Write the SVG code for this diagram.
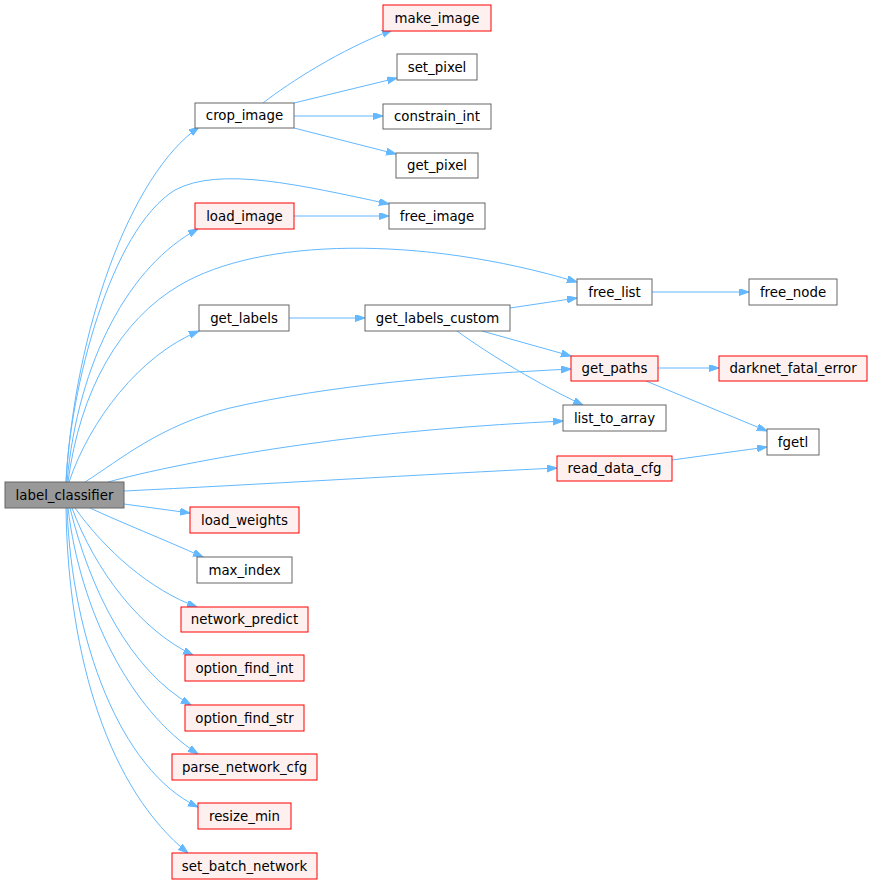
<svg xmlns="http://www.w3.org/2000/svg" width="872" height="884" viewBox="0 0 872 884">
<style>
.n rect{fill:#ffffff;stroke:#666666;stroke-width:1}
.r rect{fill:#fff0f0;stroke:#ff0000;stroke-width:1}
.root rect{fill:#999999;stroke:#666666;stroke-width:1}
text{font-family:"DejaVu Sans",sans-serif;font-size:13.33px;text-anchor:middle;fill:#000000}
#edges path{fill:none;stroke:#63b8ff;stroke-width:1;marker-end:url(#ah)}
</style>
<defs>
<marker id="ah" markerUnits="userSpaceOnUse" markerWidth="11" markerHeight="8" refX="10" refY="3.5" orient="auto">
<path d="M0,0 L10,3.5 L0,7 Z" fill="#63b8ff" stroke="#63b8ff" stroke-width="1"/>
</marker>
</defs>
<rect width="872" height="884" fill="#ffffff"/>
<g id="edges">
<path d="M66,482 C75,330 130,175 199,127"/>
<path d="M66,482 C70,390 110,230 175,190 C220,166 300,185 389,204"/>
<path d="M67,482 C78,360 130,265 198,229"/>
<path d="M68,482 C80,390 120,320 180,285 C260,238 420,235 577,282"/>
<path d="M69,482 C90,420 140,355 199,331"/>
<path d="M85,482 C120,460 160,425 230,408 C330,385 450,375 571,369"/>
<path d="M108,482 C160,468 230,455 300,445 C390,432 480,425 563,421"/>
<path d="M124,491 C250,485 430,474 557,468"/>
<path d="M124,504 L190,513"/>
<path d="M90,508 C120,522 165,540 203,557"/>
<path d="M75,508 C105,550 150,590 197,607"/>
<path d="M72,508 C95,570 140,630 193,655"/>
<path d="M70,508 C90,590 130,670 191,705"/>
<path d="M68,508 C80,610 130,710 198,754"/>
<path d="M67,508 C72,640 120,770 198,807"/>
<path d="M66,508 C68,660 110,790 188,853"/>
<path d="M263,103 C290,82 340,50 392,30"/>
<path d="M294,103 L397,78"/>
<path d="M294,116 L383,116"/>
<path d="M294,128 L396,154"/>
<path d="M294,216 L389,216"/>
<path d="M289,318 L365,318"/>
<path d="M510,308 L577,298"/>
<path d="M482,331 L571,356"/>
<path d="M457,331 C490,355 540,385 583,405"/>
<path d="M652,292 L749,292"/>
<path d="M658,368 L719,368"/>
<path d="M646,381 L767,431"/>
<path d="M672,460 L767,447"/>
</g>
<g id="label_classifier" class="root"><rect x="5" y="482" width="119" height="26"/><text x="64.5" y="499.5">label_classifier</text></g>
<g id="crop_image" class="n"><rect x="195" y="103" width="99" height="25"/><text x="244.5" y="120">crop_image</text></g>
<g id="make_image" class="r"><rect x="383" y="5" width="108" height="26"/><text x="437" y="22.5">make_image</text></g>
<g id="set_pixel" class="n"><rect x="397" y="54" width="80" height="26"/><text x="437" y="71.5">set_pixel</text></g>
<g id="constrain_int" class="n"><rect x="383" y="104" width="108" height="25"/><text x="437" y="121">constrain_int</text></g>
<g id="get_pixel" class="n"><rect x="396" y="153" width="82" height="25"/><text x="437" y="170">get_pixel</text></g>
<g id="load_image" class="r"><rect x="195" y="203" width="99" height="26"/><text x="244.5" y="220.5">load_image</text></g>
<g id="free_image" class="n"><rect x="389" y="203" width="96" height="26"/><text x="437" y="220.5">free_image</text></g>
<g id="get_labels" class="n"><rect x="199" y="305" width="90" height="26"/><text x="244" y="322.5">get_labels</text></g>
<g id="get_labels_custom" class="n"><rect x="365" y="305" width="145" height="26"/><text x="437.5" y="322.5">get_labels_custom</text></g>
<g id="free_list" class="n"><rect x="577" y="279" width="75" height="26"/><text x="614.5" y="296.5">free_list</text></g>
<g id="free_node" class="n"><rect x="749" y="279" width="88" height="26"/><text x="793" y="296.5">free_node</text></g>
<g id="get_paths" class="r"><rect x="571" y="356" width="87" height="25"/><text x="614.5" y="373">get_paths</text></g>
<g id="darknet_fatal_error" class="r"><rect x="719" y="356" width="148" height="25"/><text x="793" y="373">darknet_fatal_error</text></g>
<g id="list_to_array" class="n"><rect x="563" y="405" width="103" height="26"/><text x="614.5" y="422.5">list_to_array</text></g>
<g id="fgetl" class="n"><rect x="767" y="429" width="52" height="26"/><text x="793" y="446.5">fgetl</text></g>
<g id="read_data_cfg" class="r"><rect x="557" y="456" width="115" height="25"/><text x="614.5" y="473">read_data_cfg</text></g>
<g id="load_weights" class="r"><rect x="190" y="507" width="109" height="26"/><text x="244.5" y="524.5">load_weights</text></g>
<g id="max_index" class="n"><rect x="197" y="557" width="95" height="26"/><text x="244.5" y="574.5">max_index</text></g>
<g id="network_predict" class="r"><rect x="181" y="607" width="127" height="25"/><text x="244.5" y="624">network_predict</text></g>
<g id="option_find_int" class="r"><rect x="185" y="655" width="119" height="26"/><text x="244.5" y="672.5">option_find_int</text></g>
<g id="option_find_str" class="r"><rect x="185" y="705" width="119" height="26"/><text x="244.5" y="722.5">option_find_str</text></g>
<g id="parse_network_cfg" class="r"><rect x="172" y="754" width="145" height="26"/><text x="244.5" y="771.5">parse_network_cfg</text></g>
<g id="resize_min" class="r"><rect x="198" y="803" width="93" height="26"/><text x="244.5" y="820.5">resize_min</text></g>
<g id="set_batch_network" class="r"><rect x="172" y="853" width="145" height="26"/><text x="244.5" y="870.5">set_batch_network</text></g>
</svg>
